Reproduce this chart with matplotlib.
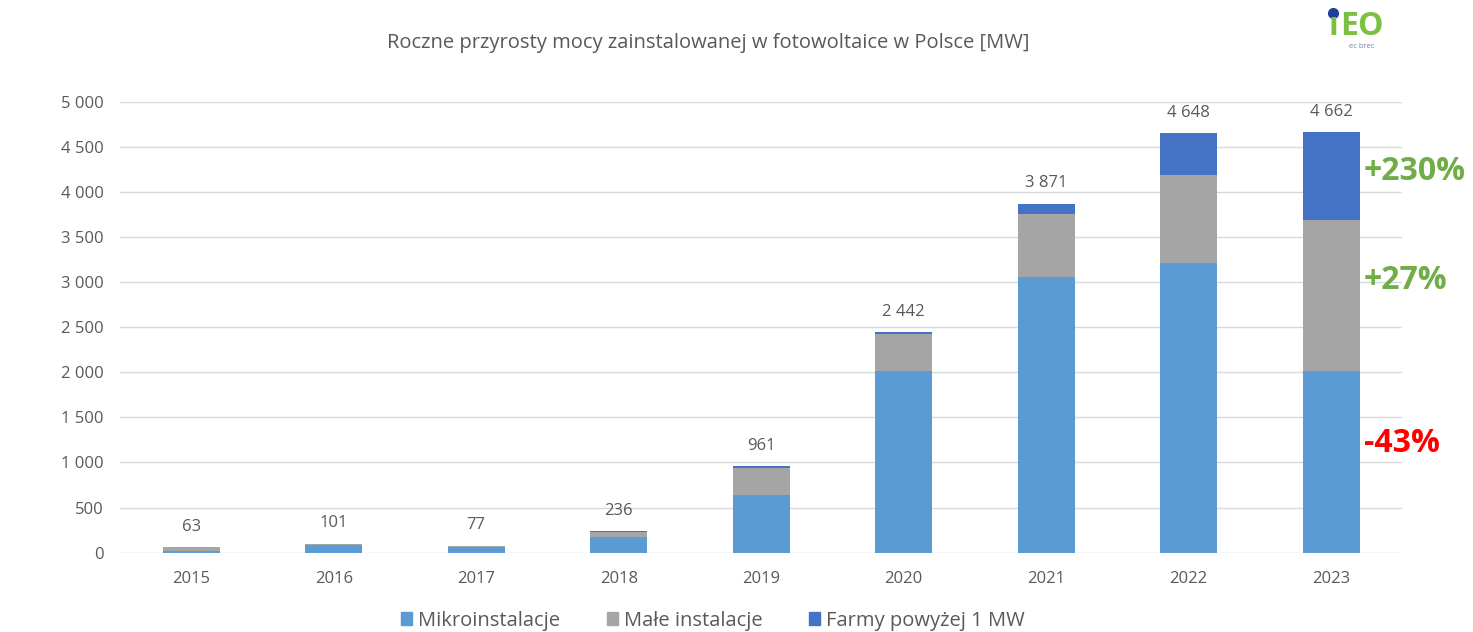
import matplotlib
matplotlib.use("Agg")
import matplotlib.pyplot as plt
import numpy as np
from matplotlib.patches import Patch
from matplotlib.lines import Line2D

plt.rcParams['font.family'] = ['Open Sans', 'DejaVu Sans']

years = ["2015", "2016", "2017", "2018", "2019", "2020", "2021", "2022", "2023"]
totals = [63, 101, 77, 236, 961, 2442, 3871, 4648, 4662]
mikro = [22, 80, 64, 170, 635, 2020, 3060, 3208, 2018]
male = [38, 18, 11, 55, 305, 410, 692, 980, 1670]
farmy = [3, 3, 2, 11, 21, 12, 119, 460, 974]
series_names = ["Mikroinstalacje", "Małe instalacje", "Farmy powyżej 1 MW"]
yticks = [0, 500, 1000, 1500, 2000, 2500, 3000, 3500, 4000, 4500, 5000]
ytick_labels = ["0", "500", "1 000", "1 500", "2 000", "2 500", "3 000", "3 500", "4 000", "4 500", "5 000"]
changes = ["+230%", "+27%", "-43%"]

c_mikro = "#5B9BD5"
c_male = "#A5A5A5"
c_farmy = "#4472C4"
txt = "#595959"

fig = plt.figure(figsize=(14.73, 6.32), dpi=100)
ax = fig.add_axes([0.0815, 0.1255, 0.8705, 0.7135])

x = np.arange(len(years))
w = 0.4
ax.bar(x, mikro, w, color=c_mikro, zorder=3)
ax.bar(x, male, w, bottom=mikro, color=c_male, zorder=3)
bot2 = [a + b for a, b in zip(mikro, male)]
ax.bar(x, farmy, w, bottom=bot2, color=c_farmy, zorder=3)

for xi, t, m, s, f in zip(x, totals, mikro, male, farmy):
    top = m + s + f
    ax.annotate(f"{t:,}".replace(",", " "), (xi, top), xytext=(0, 9),
                textcoords="offset points", ha="center", va="bottom",
                fontsize=12, color=txt)

ax.set_xlim(-0.5, 8.5)
ax.set_ylim(0, 5000)
ax.set_yticks(yticks)
ax.set_yticklabels(ytick_labels)
ax.set_xticks(x)
ax.set_xticklabels(years)
ax.tick_params(axis="both", length=0, labelsize=12, labelcolor=txt)
ax.tick_params(axis="y", pad=12)
ax.tick_params(axis="x", pad=13)
ax.grid(axis="y", color="#D9D9D9", linewidth=1, zorder=0)
for sp in ax.spines.values():
    sp.set_visible(False)

# annotations next to 2023 bar
last = len(years) - 1
ann_y = [mikro[last] + male[last] + farmy[last] * 0.55,
         mikro[last] + male[last] * 0.6,
         mikro[last] * 0.6]
ann_c = ["#70AD47", "#70AD47", "#FF0000"]
for lab, yy, cc in zip(changes, ann_y, ann_c):
    ax.text(last + 0.23, yy, lab, ha="left", va="center", fontsize=23,
            fontweight="bold", color=cc, clip_on=False)

fig.text(0.481, 0.932, "Roczne przyrosty mocy zainstalowanej w fotowoltaice w Polsce [MW]",
         ha="center", va="center", fontsize=14.5, color=txt)

# logo
fig.text(0.9050, 0.958, "ı", ha="center", va="center", fontsize=23,
         fontweight="bold", color="#7AC143")
fig.text(0.9095, 0.958, "EO", ha="left", va="center", fontsize=23,
         fontweight="bold", color="#7AC143")
fig.add_artist(Line2D([0.9050], [0.980], marker="o", markersize=7, color="#1F3F99",
                      transform=fig.transFigure))
fig.text(0.9245, 0.927, "ec brec", ha="center", va="center", fontsize=5.5,
         color="#6F7FA8")

handles = [Patch(color=c) for c in (c_mikro, c_male, c_farmy)]
fig.legend(handles, series_names, loc="center", bbox_to_anchor=(0.484, 0.018),
           ncol=3, frameon=False, fontsize=14.5, handlelength=0.55, handleheight=0.55,
           handletextpad=0.3, columnspacing=2.3, labelcolor=txt)

fig.savefig("out.png", dpi=100, facecolor="white")
